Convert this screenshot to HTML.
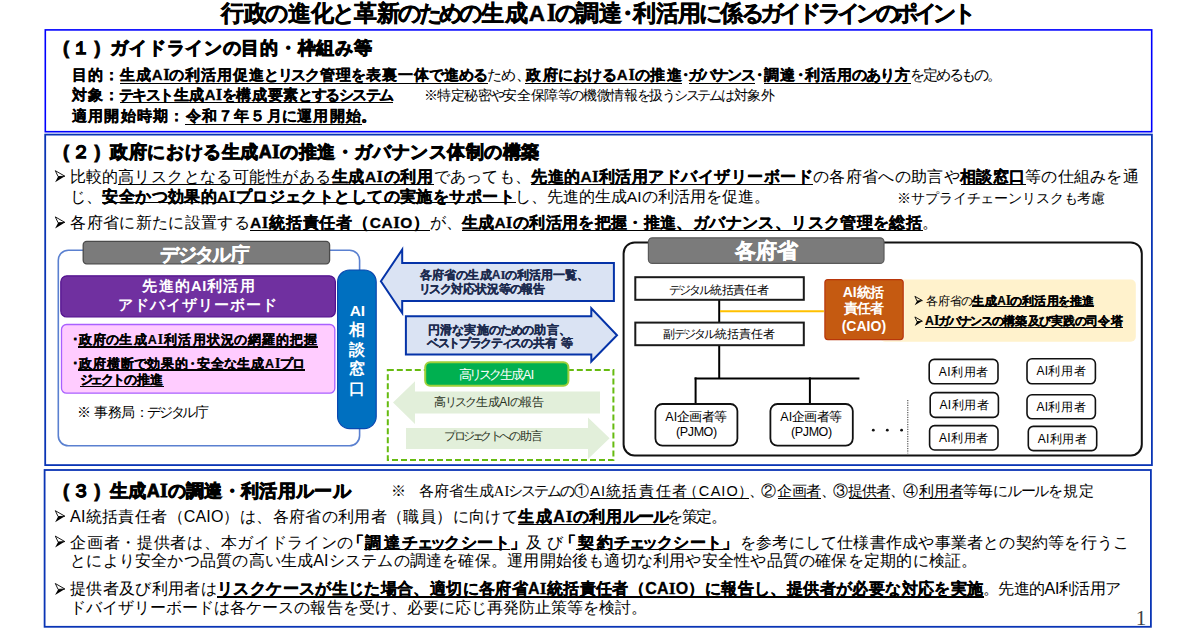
<!DOCTYPE html>
<html lang="ja"><head><meta charset="utf-8"><title>生成AIの調達・利活用に係るガイドラインのポイント</title>
<style>
html,body{margin:0;padding:0;background:#fff;}
body{width:1200px;height:630px;overflow:hidden;position:relative;font-family:"Liberation Sans",sans-serif;}
.bg{position:absolute;left:0;top:0;}
.t{position:absolute;white-space:nowrap;}
.f{white-space:nowrap;}
.f i{font-style:normal;}
.b{font-weight:bold;-webkit-text-stroke:0.018em currentColor;}
.k{font-weight:bold;}
.u{position:absolute;}
</style></head><body>
<svg class="bg" width="1200" height="630" viewBox="0 0 1200 630"><rect x="45.30" y="29.90" width="1106.40" height="101.80" rx="0.00" fill="none" stroke="#0000FF" stroke-width="1.60"></rect><rect x="45.20" y="134.60" width="1106.70" height="330.50" rx="0.00" fill="none" stroke="#0A35B5" stroke-width="1.80"></rect><rect x="44.60" y="470.00" width="1106.30" height="156.80" rx="0.00" fill="none" stroke="#0A35B5" stroke-width="1.80"></rect><path d="M55.30,170.70 L64.88,176.20 L58.13,176.60 Z" fill="none" stroke="#000" stroke-width="0.9" stroke-linejoin="miter"></path><path d="M64.88,176.20 L55.10,182.20 L58.13,176.60 Z" fill="#000"></path><path d="M55.30,216.90 L64.88,222.40 L58.13,222.80 Z" fill="none" stroke="#000" stroke-width="0.9" stroke-linejoin="miter"></path><path d="M64.88,222.40 L55.10,228.40 L58.13,222.80 Z" fill="#000"></path><rect x="58.30" y="250.20" width="301.30" height="195.60" rx="10.00" fill="#fff" stroke="#5A80D0" stroke-width="1.60"></rect><rect x="83.20" y="241.40" width="246.40" height="22.40" rx="3.50" fill="#7B7B7B" stroke="#4A4A4A" stroke-width="1.30"></rect><rect x="60.80" y="275.80" width="274.60" height="41.20" rx="6.00" fill="#7030A0" stroke="#52108E" stroke-width="1.20"></rect><rect x="61.50" y="324.50" width="273.30" height="68.70" rx="5.00" fill="#FFCCFF" stroke="#A960FF" stroke-width="1.30"></rect><rect x="337.60" y="270.00" width="38.60" height="158.60" rx="12.00" fill="#0070C0" stroke="#0A48B0" stroke-width="1.20"></rect><polygon points="380.90,281.30 402.20,249.60 402.20,262.90 613.90,262.90 613.90,300.90 402.20,300.90 402.20,313.00" fill="#DAE3F3" stroke="#0533A8" stroke-width="2.00" stroke-linejoin="miter"></polygon><polygon points="405.90,316.20 591.30,316.20 591.30,308.30 617.00,335.30 591.30,361.50 591.30,354.40 405.90,354.40" fill="#DAE3F3" stroke="#0533A8" stroke-width="2.00" stroke-linejoin="miter"></polygon><rect x="387.80" y="370.00" width="225.60" height="90.00" rx="0.00" fill="none" stroke="#66BB10" stroke-width="2.00" stroke-dasharray="6,3"></rect><polygon points="393.00,402.60 415.00,381.20 415.00,391.60 600.00,391.60 600.00,413.40 415.00,413.40 415.00,424.00" fill="#E2EFDA" stroke="none" stroke-width="1.00" stroke-linejoin="miter"></polygon><polygon points="406.00,428.00 588.00,428.00 588.00,417.40 609.60,438.20 588.00,459.00 588.00,449.00 406.00,449.00" fill="#E2EFDA" stroke="none" stroke-width="1.00" stroke-linejoin="miter"></polygon><rect x="425.20" y="362.20" width="143.20" height="23.60" rx="5.00" fill="#00B050" stroke="#9ED03A" stroke-width="2.00"></rect><rect x="623.60" y="242.40" width="518.20" height="213.10" rx="11.00" fill="none" stroke="#111" stroke-width="2.00"></rect><rect x="648.40" y="237.80" width="235.60" height="25.60" rx="4.00" fill="#7B7B7B" stroke="#5A5A5A" stroke-width="1.20"></rect><line x1="719.20" y1="300.00" x2="719.20" y2="322.00" stroke="#000" stroke-width="2.00"></line><line x1="719.20" y1="345.00" x2="719.20" y2="378.80" stroke="#000" stroke-width="2.00"></line><line x1="720.00" y1="311.20" x2="825.00" y2="311.20" stroke="#FFC000" stroke-width="2.00"></line><rect x="635.30" y="277.20" width="168.50" height="22.60" rx="0.00" fill="#fff" stroke="#1A1A1A" stroke-width="2.00"></rect><rect x="635.30" y="322.60" width="168.50" height="22.60" rx="0.00" fill="#fff" stroke="#1A1A1A" stroke-width="2.00"></rect><rect x="880.00" y="279.60" width="255.80" height="62.20" rx="5.00" fill="#FFF2CC" stroke="none" stroke-width="1.00"></rect><rect x="823.90" y="278.60" width="80.30" height="62.00" rx="4.00" fill="#fff" stroke="none" stroke-width="1.00"></rect><rect x="824.90" y="279.60" width="78.30" height="60.00" rx="3.00" fill="#C55A11" stroke="#B8360A" stroke-width="1.20"></rect><path d="M914.90,296.35 L922.38,300.60 L917.03,301.00 Z" fill="none" stroke="#000" stroke-width="0.9" stroke-linejoin="miter"></path><path d="M922.38,300.60 L914.70,305.35 L917.03,301.00 Z" fill="#000"></path><path d="M914.90,316.95 L922.38,321.20 L917.03,321.60 Z" fill="none" stroke="#000" stroke-width="0.9" stroke-linejoin="miter"></path><path d="M922.38,321.20 L914.70,325.95 L917.03,321.60 Z" fill="#000"></path><line x1="694.60" y1="378.40" x2="859.40" y2="378.40" stroke="#000" stroke-width="2.00"></line><line x1="695.60" y1="377.40" x2="695.60" y2="404.00" stroke="#000" stroke-width="2.00"></line><line x1="809.90" y1="377.40" x2="809.90" y2="404.00" stroke="#000" stroke-width="2.00"></line><rect x="655.40" y="404.00" width="82.00" height="41.60" rx="7.00" fill="#fff" stroke="#111" stroke-width="1.80"></rect><rect x="770.40" y="404.00" width="82.40" height="41.60" rx="7.00" fill="#fff" stroke="#111" stroke-width="1.80"></rect><circle cx="873.30" cy="430.2" r="1.4" fill="#111"></circle><circle cx="887.30" cy="430.2" r="1.4" fill="#111"></circle><circle cx="901.60" cy="430.2" r="1.4" fill="#111"></circle><line x1="907.80" y1="400.00" x2="907.80" y2="453.40" stroke="#333" stroke-width="1.00" stroke-dasharray="1.2,1.2"></line><rect x="929.20" y="359.40" width="68.80" height="24.40" rx="5.00" fill="#fff" stroke="#111" stroke-width="1.60"></rect><rect x="930.20" y="392.60" width="68.20" height="24.80" rx="5.00" fill="#fff" stroke="#111" stroke-width="1.60"></rect><rect x="929.60" y="425.60" width="68.40" height="24.40" rx="5.00" fill="#fff" stroke="#111" stroke-width="1.60"></rect><rect x="1027.00" y="358.80" width="68.40" height="25.00" rx="5.00" fill="#fff" stroke="#111" stroke-width="1.60"></rect><rect x="1027.00" y="394.80" width="68.40" height="24.00" rx="5.00" fill="#fff" stroke="#111" stroke-width="1.60"></rect><rect x="1028.30" y="426.40" width="68.40" height="24.20" rx="5.00" fill="#fff" stroke="#111" stroke-width="1.60"></rect><path d="M55.30,510.70 L64.88,516.20 L58.13,516.60 Z" fill="none" stroke="#000" stroke-width="0.9" stroke-linejoin="miter"></path><path d="M64.88,516.20 L55.10,522.20 L58.13,516.60 Z" fill="#000"></path><path d="M55.30,536.10 L64.88,541.60 L58.13,542.00 Z" fill="none" stroke="#000" stroke-width="0.9" stroke-linejoin="miter"></path><path d="M64.88,541.60 L55.10,547.60 L58.13,542.00 Z" fill="#000"></path><path d="M55.30,583.50 L64.88,589.00 L58.13,589.40 Z" fill="none" stroke="#000" stroke-width="0.9" stroke-linejoin="miter"></path><path d="M64.88,589.00 L55.10,595.00 L58.13,589.40 Z" fill="#000"></path></svg>
<div class="u" style="left:119.50px;top:82.65px;width:368.50px;height:1.30px;background:#000"></div><div class="u" style="left:525.40px;top:82.65px;width:157.10px;height:1.30px;background:#000"></div><div class="u" style="left:688.50px;top:82.65px;width:66.00px;height:1.30px;background:#000"></div><div class="u" style="left:763.50px;top:82.65px;width:147.00px;height:1.30px;background:#000"></div><div class="u" style="left:119.50px;top:102.15px;width:273.90px;height:1.30px;background:#000"></div><div class="u" style="left:185.00px;top:123.95px;width:176.60px;height:1.30px;background:#000"></div><div class="u" style="left:117.50px;top:183.75px;width:214.00px;height:1.30px;background:#000"></div><div class="u" style="left:331.50px;top:183.75px;width:102.25px;height:1.30px;background:#000"></div><div class="u" style="left:531.25px;top:183.75px;width:282.00px;height:1.30px;background:#000"></div><div class="u" style="left:960.50px;top:183.75px;width:65.30px;height:1.30px;background:#000"></div><div class="u" style="left:102.00px;top:201.95px;width:413.50px;height:1.30px;background:#000"></div><div class="u" style="left:250.00px;top:229.95px;width:180.00px;height:1.30px;background:#000"></div><div class="u" style="left:462.00px;top:229.95px;width:461.00px;height:1.30px;background:#000"></div><div class="u" style="left:78.00px;top:345.90px;width:240.00px;height:1.80px;background:#000"></div><div class="u" style="left:78.00px;top:369.10px;width:227.00px;height:1.80px;background:#000"></div><div class="u" style="left:80.40px;top:385.50px;width:83.30px;height:1.80px;background:#000"></div><div class="u" style="left:972.40px;top:305.80px;width:122.00px;height:1.20px;background:#000"></div><div class="u" style="left:925.00px;top:326.60px;width:198.00px;height:1.20px;background:#000"></div><div class="u" style="left:589.50px;top:497.85px;width:159.25px;height:1.10px;background:#000"></div><div class="u" style="left:777.50px;top:497.85px;width:43.75px;height:1.10px;background:#000"></div><div class="u" style="left:849.00px;top:497.85px;width:41.40px;height:1.10px;background:#000"></div><div class="u" style="left:918.80px;top:497.85px;width:44.70px;height:1.10px;background:#000"></div><div class="u" style="left:518.00px;top:523.55px;width:150.75px;height:1.30px;background:#000"></div><div class="u" style="left:363.75px;top:548.95px;width:146.25px;height:1.30px;background:#000"></div><div class="u" style="left:576.25px;top:548.95px;width:146.25px;height:1.30px;background:#000"></div><div class="u" style="left:217.00px;top:596.35px;width:767.40px;height:1.30px;background:#000"></div>
<div class="t" style="left:221.00px;top:1.64px;font-size:22.50px;line-height:22.50px;color:#000;"><span class="f b" style=""><i style="margin-left: 0.04px; margin-right: 0.04px;">行</i><i style="margin-left: 0.04px; margin-right: 0.04px;">政</i><i style="margin-left: -1.84px; margin-right: -1.84px;">の</i><i style="margin-left: 0.04px; margin-right: 0.04px;">進</i><i style="margin-left: 0.04px; margin-right: 0.04px;">化</i><i style="margin-left: -1.84px; margin-right: -1.84px;">と</i><i style="margin-left: 0.04px; margin-right: 0.04px;">革</i><i style="margin-left: 0.04px; margin-right: 0.04px;">新</i><i style="margin-left: -1.84px; margin-right: -1.84px;">の</i><i style="margin-left: -1.84px; margin-right: -1.84px;">た</i><i style="margin-left: -1.84px; margin-right: -1.84px;">め</i><i style="margin-left: -1.84px; margin-right: -1.84px;">の</i><i style="margin-left: 0.04px; margin-right: 0.04px;">生</i><i style="margin-left: 0.04px; margin-right: 0.04px;">成</i></span><span class="f b" style=""><i style="margin-left: 1.13px; margin-right: 1.13px;">A</i><i style="font-family: &quot;Liberation Serif&quot;, serif; font-size: 1.1em; margin-left: 0.67px; margin-right: 0.67px;">I</i></span><span class="f b" style=""><i style="margin-left: -2.17px; margin-right: -2.17px;">の</i><i style="margin-left: -0.33px; margin-right: -0.33px;">調</i><i style="margin-left: -0.33px; margin-right: -0.33px;">達</i><i style="margin-left: -5.36px; margin-right: -5.36px;">・</i><i style="margin-left: -0.33px; margin-right: -0.33px;">利</i><i style="margin-left: -0.33px; margin-right: -0.33px;">活</i><i style="margin-left: -0.33px; margin-right: -0.33px;">用</i><i style="margin-left: -2.17px; margin-right: -2.17px;">に</i><i style="margin-left: -0.33px; margin-right: -0.33px;">係</i><i style="margin-left: -2.17px; margin-right: -2.17px;">る</i><i style="margin-left: -2.4px; margin-right: -2.4px;">ガ</i><i style="margin-left: -2.4px; margin-right: -2.4px;">イ</i><i style="margin-left: -2.4px; margin-right: -2.4px;">ド</i><i style="margin-left: -2.4px; margin-right: -2.4px;">ラ</i><i style="margin-left: -2.4px; margin-right: -2.4px;">イ</i><i style="margin-left: -2.4px; margin-right: -2.4px;">ン</i><i style="margin-left: -2.17px; margin-right: -2.17px;">の</i><i style="margin-left: -2.4px; margin-right: -2.4px;">ポ</i><i style="margin-left: -2.4px; margin-right: -2.4px;">イ</i><i style="margin-left: -2.4px; margin-right: -2.4px;">ン</i><i style="margin-left: -2.4px; margin-right: -2.4px;">ト</i></span></div>
<div class="t" style="left:60.00px;top:39.31px;font-size:18.00px;line-height:18.00px;color:#000;"><span class="f b" style="-webkit-text-stroke: 0.045em currentcolor;"><i style="margin-left: 3px; margin-right: 3px;">(</i></span><span class="f b" style="-webkit-text-stroke: 0.045em currentcolor;"><i style="margin-left: -0.5px; margin-right: -0.5px;">１</i></span><span class="f b" style="-webkit-text-stroke: 0.045em currentcolor;"><i style="margin-left: 5.5px; margin-right: 5.5px;">)</i></span><span class="f" style=""><i style="margin-left: -0.51px; margin-right: -0.51px;"> </i></span><span class="f b" style="-webkit-text-stroke: 0.045em currentcolor;"><i style="margin-left: 0.36px; margin-right: 0.36px;">ガ</i><i style="margin-left: 0.36px; margin-right: 0.36px;">イ</i><i style="margin-left: 0.36px; margin-right: 0.36px;">ド</i><i style="margin-left: 0.36px; margin-right: 0.36px;">ラ</i><i style="margin-left: 0.36px; margin-right: 0.36px;">イ</i><i style="margin-left: 0.36px; margin-right: 0.36px;">ン</i><i style="margin-left: 0.36px; margin-right: 0.36px;">の</i><i style="margin-left: 0.36px; margin-right: 0.36px;">目</i><i style="margin-left: 0.36px; margin-right: 0.36px;">的</i><i style="margin-left: 0.36px; margin-right: 0.36px;">・</i><i style="margin-left: 0.36px; margin-right: 0.36px;">枠</i><i style="margin-left: 0.36px; margin-right: 0.36px;">組</i><i style="margin-left: 0.36px; margin-right: 0.36px;">み</i><i style="margin-left: 0.36px; margin-right: 0.36px;">等</i></span></div>
<div class="t" style="left:71.20px;top:67.22px;font-size:15.00px;line-height:15.00px;color:#000;"><span class="f b" style=""><i style="margin-left: 0.55px; margin-right: 0.55px;">目</i><i style="margin-left: 0.55px; margin-right: 0.55px;">的</i><i style="margin-left: 0.55px; margin-right: 0.55px;">：</i></span><span class="f b" style=""><i style="margin-left: 0.51px; margin-right: 0.51px;">生</i><i style="margin-left: 0.51px; margin-right: 0.51px;">成</i><i style="margin-left: 0.37px; margin-right: 0.37px;">A</i><i style="font-family: &quot;Liberation Serif&quot;, serif; font-size: 1.1em; margin-left: 0.22px; margin-right: 0.22px;">I</i><i style="margin-left: -0.45px; margin-right: -0.45px;">の</i><i style="margin-left: 0.51px; margin-right: 0.51px;">利</i><i style="margin-left: 0.51px; margin-right: 0.51px;">活</i><i style="margin-left: 0.51px; margin-right: 0.51px;">用</i><i style="margin-left: 0.51px; margin-right: 0.51px;">促</i><i style="margin-left: 0.51px; margin-right: 0.51px;">進</i><i style="margin-left: -0.45px; margin-right: -0.45px;">と</i><i style="margin-left: -0.61px; margin-right: -0.61px;">リ</i><i style="margin-left: -0.61px; margin-right: -0.61px;">ス</i><i style="margin-left: -0.61px; margin-right: -0.61px;">ク</i><i style="margin-left: 0.51px; margin-right: 0.51px;">管</i><i style="margin-left: 0.51px; margin-right: 0.51px;">理</i><i style="margin-left: -0.45px; margin-right: -0.45px;">を</i><i style="margin-left: 0.51px; margin-right: 0.51px;">表</i><i style="margin-left: 0.51px; margin-right: 0.51px;">裏</i><i style="margin-left: 0.51px; margin-right: 0.51px;">一</i><i style="margin-left: 0.51px; margin-right: 0.51px;">体</i><i style="margin-left: -0.45px; margin-right: -0.45px;">で</i><i style="margin-left: 0.51px; margin-right: 0.51px;">進</i><i style="margin-left: -0.45px; margin-right: -0.45px;">め</i><i style="margin-left: -0.45px; margin-right: -0.45px;">る</i></span><span class="f" style=""><i style="margin-left: -0.59px; margin-right: -0.59px;">た</i><i style="margin-left: -0.59px; margin-right: -0.59px;">め</i><i style="margin-right: -5.26px;">、</i></span><span class="f b" style=""><i style="margin-left: 0.72px; margin-right: 0.72px;">政</i><i style="margin-left: 0.72px; margin-right: 0.72px;">府</i><i style="margin-left: -0.26px; margin-right: -0.26px;">に</i><i style="margin-left: -0.26px; margin-right: -0.26px;">お</i><i style="margin-left: -0.26px; margin-right: -0.26px;">け</i><i style="margin-left: -0.26px; margin-right: -0.26px;">る</i><i style="margin-left: 0.52px; margin-right: 0.52px;">A</i><i style="font-family: &quot;Liberation Serif&quot;, serif; font-size: 1.1em; margin-left: 0.31px; margin-right: 0.31px;">I</i><i style="margin-left: -0.26px; margin-right: -0.26px;">の</i><i style="margin-left: 0.72px; margin-right: 0.72px;">推</i><i style="margin-left: 0.72px; margin-right: 0.72px;">進</i></span><span class="f b" style=""><i style="margin-left: -4.5px; margin-right: -4.5px;">・</i></span><span class="f b" style=""><i style="margin-left: -0.9px; margin-right: -0.9px;">ガ</i><i style="margin-left: -0.9px; margin-right: -0.9px;">バ</i><i style="margin-left: -0.9px; margin-right: -0.9px;">ナ</i><i style="margin-left: -0.9px; margin-right: -0.9px;">ン</i><i style="margin-left: -0.9px; margin-right: -0.9px;">ス</i></span><span class="f b" style=""><i style="margin-left: -3px; margin-right: -3px;">・</i></span><span class="f b" style=""><i style="margin-left: 0.5px; margin-right: 0.5px;">調</i><i style="margin-left: 0.5px; margin-right: 0.5px;">達</i><i style="margin-left: -3.1px; margin-right: -3.1px;">・</i><i style="margin-left: 0.5px; margin-right: 0.5px;">利</i><i style="margin-left: 0.5px; margin-right: 0.5px;">活</i><i style="margin-left: 0.5px; margin-right: 0.5px;">用</i><i style="margin-left: -0.46px; margin-right: -0.46px;">の</i><i style="margin-left: -0.46px; margin-right: -0.46px;">あ</i><i style="margin-left: -0.46px; margin-right: -0.46px;">り</i><i style="margin-left: 0.5px; margin-right: 0.5px;">方</i></span><span class="f" style=""><i style="margin-left: -1.25px; margin-right: -1.25px;">を</i><i style="margin-left: -0.4px; margin-right: -0.4px;">定</i><i style="margin-left: -1.25px; margin-right: -1.25px;">め</i><i style="margin-left: -1.25px; margin-right: -1.25px;">る</i><i style="margin-left: -1.25px; margin-right: -1.25px;">も</i><i style="margin-left: -1.25px; margin-right: -1.25px;">の</i><i style="margin-right: -6.19px;">。</i></span></div>
<div class="t" style="left:71.20px;top:87.42px;font-size:15.00px;line-height:15.00px;color:#000;"><span class="f b" style=""><i style="margin-left: 0.55px; margin-right: 0.55px;">対</i><i style="margin-left: 0.55px; margin-right: 0.55px;">象</i><i style="margin-left: 0.55px; margin-right: 0.55px;">：</i></span><span class="f b" style=""><i style="margin-left: -0.79px; margin-right: -0.79px;">テ</i><i style="margin-left: -0.79px; margin-right: -0.79px;">キ</i><i style="margin-left: -0.79px; margin-right: -0.79px;">ス</i><i style="margin-left: -0.79px; margin-right: -0.79px;">ト</i><i style="margin-left: 0.3px; margin-right: 0.3px;">生</i><i style="margin-left: 0.3px; margin-right: 0.3px;">成</i><i style="margin-left: 0.22px; margin-right: 0.22px;">A</i><i style="font-family: &quot;Liberation Serif&quot;, serif; font-size: 1.1em; margin-left: 0.13px; margin-right: 0.13px;">I</i><i style="margin-left: -0.63px; margin-right: -0.63px;">を</i><i style="margin-left: 0.3px; margin-right: 0.3px;">構</i><i style="margin-left: 0.3px; margin-right: 0.3px;">成</i><i style="margin-left: 0.3px; margin-right: 0.3px;">要</i><i style="margin-left: 0.3px; margin-right: 0.3px;">素</i><i style="margin-left: -0.63px; margin-right: -0.63px;">と</i><i style="margin-left: -0.63px; margin-right: -0.63px;">す</i><i style="margin-left: -0.63px; margin-right: -0.63px;">る</i><i style="margin-left: -0.79px; margin-right: -0.79px;">シ</i><i style="margin-left: -0.79px; margin-right: -0.79px;">ス</i><i style="margin-left: -0.79px; margin-right: -0.79px;">テ</i><i style="margin-left: -0.79px; margin-right: -0.79px;">ム</i></span></div>
<div class="t" style="left:424.60px;top:88.78px;font-size:13.50px;line-height:13.50px;color:#000;"><span class="f" style=""><i style="margin-left: -0.56px; margin-right: -0.56px;">※</i><i style="margin-left: -0.23px; margin-right: -0.23px;">特</i><i style="margin-left: -0.23px; margin-right: -0.23px;">定</i><i style="margin-left: -0.23px; margin-right: -0.23px;">秘</i><i style="margin-left: -0.23px; margin-right: -0.23px;">密</i><i style="margin-left: -1.04px; margin-right: -1.04px;">や</i><i style="margin-left: -0.23px; margin-right: -0.23px;">安</i><i style="margin-left: -0.23px; margin-right: -0.23px;">全</i><i style="margin-left: -0.23px; margin-right: -0.23px;">保</i><i style="margin-left: -0.23px; margin-right: -0.23px;">障</i><i style="margin-left: -0.23px; margin-right: -0.23px;">等</i><i style="margin-left: -1.04px; margin-right: -1.04px;">の</i><i style="margin-left: -0.23px; margin-right: -0.23px;">機</i><i style="margin-left: -0.23px; margin-right: -0.23px;">微</i><i style="margin-left: -0.23px; margin-right: -0.23px;">情</i><i style="margin-left: -0.23px; margin-right: -0.23px;">報</i><i style="margin-left: -1.04px; margin-right: -1.04px;">を</i><i style="margin-left: -0.23px; margin-right: -0.23px;">扱</i><i style="margin-left: -1.04px; margin-right: -1.04px;">う</i><i style="margin-left: -1.17px; margin-right: -1.17px;">シ</i><i style="margin-left: -1.17px; margin-right: -1.17px;">ス</i><i style="margin-left: -1.17px; margin-right: -1.17px;">テ</i><i style="margin-left: -1.17px; margin-right: -1.17px;">ム</i><i style="margin-left: -1.04px; margin-right: -1.04px;">は</i><i style="margin-left: -0.23px; margin-right: -0.23px;">対</i><i style="margin-left: -0.23px; margin-right: -0.23px;">象</i><i style="margin-left: -0.23px; margin-right: -0.23px;">外</i></span></div>
<div class="t" style="left:71.20px;top:108.42px;font-size:15.00px;line-height:15.00px;color:#000;"><span class="f b" style=""><i style="margin-left: 0.63px; margin-right: 0.63px;">適</i><i style="margin-left: 0.63px; margin-right: 0.63px;">用</i><i style="margin-left: 0.63px; margin-right: 0.63px;">開</i><i style="margin-left: 0.63px; margin-right: 0.63px;">始</i><i style="margin-left: 0.63px; margin-right: 0.63px;">時</i><i style="margin-left: 0.63px; margin-right: 0.63px;">期</i><i style="margin-left: 0.63px; margin-right: 0.63px;">：</i></span><span class="f b" style=""><i style="margin-left: 0.62px; margin-right: 0.62px;">令</i><i style="margin-left: 0.62px; margin-right: 0.62px;">和</i><i style="margin-left: 0.62px; margin-right: 0.62px;">７</i><i style="margin-left: 0.62px; margin-right: 0.62px;">年</i><i style="margin-left: 0.62px; margin-right: 0.62px;">５</i><i style="margin-left: 0.62px; margin-right: 0.62px;">月</i><i style="margin-left: -0.36px; margin-right: -0.36px;">に</i><i style="margin-left: 0.62px; margin-right: 0.62px;">運</i><i style="margin-left: 0.62px; margin-right: 0.62px;">用</i><i style="margin-left: 0.62px; margin-right: 0.62px;">開</i><i style="margin-left: 0.62px; margin-right: 0.62px;">始</i></span><span class="f b" style=""><i style="margin-right: -8.1px;">。</i></span></div>
<div class="t" style="left:60.00px;top:142.31px;font-size:18.00px;line-height:18.00px;color:#000;"><span class="f b" style="-webkit-text-stroke: 0.045em currentcolor;"><i style="margin-left: 3px; margin-right: 3px;">(</i></span><span class="f b" style="-webkit-text-stroke: 0.045em currentcolor;"><i style="margin-left: -0.5px; margin-right: -0.5px;">２</i></span><span class="f b" style="-webkit-text-stroke: 0.045em currentcolor;"><i style="margin-left: 5.5px; margin-right: 5.5px;">)</i></span><span class="f" style=""><i style="margin-left: -0.51px; margin-right: -0.51px;"> </i></span><span class="f b" style="-webkit-text-stroke: 0.045em currentcolor;"><i style="margin-left: 0.29px; margin-right: 0.29px;">政</i><i style="margin-left: 0.29px; margin-right: 0.29px;">府</i><i style="margin-left: 0.29px; margin-right: 0.29px;">に</i><i style="margin-left: 0.29px; margin-right: 0.29px;">お</i><i style="margin-left: 0.29px; margin-right: 0.29px;">け</i><i style="margin-left: 0.29px; margin-right: 0.29px;">る</i><i style="margin-left: 0.29px; margin-right: 0.29px;">生</i><i style="margin-left: 0.29px; margin-right: 0.29px;">成</i><i style="margin-left: 0.21px; margin-right: 0.21px;">A</i><i style="font-family: &quot;Liberation Serif&quot;, serif; font-size: 1.1em; margin-left: 0.12px; margin-right: 0.12px;">I</i><i style="margin-left: 0.29px; margin-right: 0.29px;">の</i><i style="margin-left: 0.29px; margin-right: 0.29px;">推</i><i style="margin-left: 0.29px; margin-right: 0.29px;">進</i><i style="margin-left: 0.29px; margin-right: 0.29px;">・</i><i style="margin-left: 0.29px; margin-right: 0.29px;">ガ</i><i style="margin-left: 0.29px; margin-right: 0.29px;">バ</i><i style="margin-left: 0.29px; margin-right: 0.29px;">ナ</i><i style="margin-left: 0.29px; margin-right: 0.29px;">ン</i><i style="margin-left: 0.29px; margin-right: 0.29px;">ス</i><i style="margin-left: 0.29px; margin-right: 0.29px;">体</i><i style="margin-left: 0.29px; margin-right: 0.29px;">制</i><i style="margin-left: 0.29px; margin-right: 0.29px;">の</i><i style="margin-left: 0.29px; margin-right: 0.29px;">構</i><i style="margin-left: 0.29px; margin-right: 0.29px;">築</i></span></div>
<div class="t" style="left:70.00px;top:169.17px;font-size:15.50px;line-height:15.50px;color:#000;"><span class="f" style=""><i style="margin-left: -0.08px; margin-right: -0.08px;">比</i><i style="margin-left: -0.08px; margin-right: -0.08px;">較</i><i style="margin-left: -0.08px; margin-right: -0.08px;">的</i></span><span class="f" style=""><i style="margin-left: 0.23px; margin-right: 0.23px;">高</i><i style="margin-left: 0.23px; margin-right: 0.23px;">リ</i><i style="margin-left: 0.23px; margin-right: 0.23px;">ス</i><i style="margin-left: 0.23px; margin-right: 0.23px;">ク</i><i style="margin-left: 0.23px; margin-right: 0.23px;">と</i><i style="margin-left: 0.23px; margin-right: 0.23px;">な</i><i style="margin-left: 0.23px; margin-right: 0.23px;">る</i><i style="margin-left: 0.23px; margin-right: 0.23px;">可</i><i style="margin-left: 0.23px; margin-right: 0.23px;">能</i><i style="margin-left: 0.23px; margin-right: 0.23px;">性</i><i style="margin-left: 0.23px; margin-right: 0.23px;">が</i><i style="margin-left: 0.23px; margin-right: 0.23px;">あ</i><i style="margin-left: 0.23px; margin-right: 0.23px;">る</i></span><span class="f b" style=""><i style="margin-left: 0.36px; margin-right: 0.36px;">生</i><i style="margin-left: 0.36px; margin-right: 0.36px;">成</i><i style="margin-left: 0.25px; margin-right: 0.25px;">A</i><i style="font-family: &quot;Liberation Serif&quot;, serif; font-size: 1.1em; margin-left: 0.15px; margin-right: 0.15px;">I</i><i style="margin-left: 0.36px; margin-right: 0.36px;">の</i><i style="margin-left: 0.36px; margin-right: 0.36px;">利</i><i style="margin-left: 0.36px; margin-right: 0.36px;">用</i></span><span class="f" style=""><i style="margin-left: 0.13px; margin-right: 0.13px;">で</i><i style="margin-left: 0.13px; margin-right: 0.13px;">あ</i><i style="margin-left: 0.13px; margin-right: 0.13px;">っ</i><i style="margin-left: 0.13px; margin-right: 0.13px;">て</i><i style="margin-left: 0.13px; margin-right: 0.13px;">も</i><i style="margin-right: 0.25px;">、</i></span><span class="f b" style=""><i style="margin-left: 0.24px; margin-right: 0.24px;">先</i><i style="margin-left: 0.24px; margin-right: 0.24px;">進</i><i style="margin-left: 0.24px; margin-right: 0.24px;">的</i><i style="margin-left: 0.17px; margin-right: 0.17px;">A</i><i style="font-family: &quot;Liberation Serif&quot;, serif; font-size: 1.1em; margin-left: 0.1px; margin-right: 0.1px;">I</i><i style="margin-left: 0.24px; margin-right: 0.24px;">利</i><i style="margin-left: 0.24px; margin-right: 0.24px;">活</i><i style="margin-left: 0.24px; margin-right: 0.24px;">用</i><i style="margin-left: 0.24px; margin-right: 0.24px;">ア</i><i style="margin-left: 0.24px; margin-right: 0.24px;">ド</i><i style="margin-left: 0.24px; margin-right: 0.24px;">バ</i><i style="margin-left: 0.24px; margin-right: 0.24px;">イ</i><i style="margin-left: 0.24px; margin-right: 0.24px;">ザ</i><i style="margin-left: 0.24px; margin-right: 0.24px;">リ</i><i style="margin-left: 0.24px; margin-right: 0.24px;">ー</i><i style="margin-left: 0.24px; margin-right: 0.24px;">ボ</i><i style="margin-left: 0.24px; margin-right: 0.24px;">ー</i><i style="margin-left: 0.24px; margin-right: 0.24px;">ド</i></span><span class="f" style=""><i style="margin-left: 0.18px; margin-right: 0.18px;">の</i><i style="margin-left: 0.18px; margin-right: 0.18px;">各</i><i style="margin-left: 0.18px; margin-right: 0.18px;">府</i><i style="margin-left: 0.18px; margin-right: 0.18px;">省</i><i style="margin-left: 0.18px; margin-right: 0.18px;">へ</i><i style="margin-left: 0.18px; margin-right: 0.18px;">の</i><i style="margin-left: 0.18px; margin-right: 0.18px;">助</i><i style="margin-left: 0.18px; margin-right: 0.18px;">言</i><i style="margin-left: 0.18px; margin-right: 0.18px;">や</i></span><span class="f b" style=""><i style="margin-left: 0.16px; margin-right: 0.16px;">相</i><i style="margin-left: 0.16px; margin-right: 0.16px;">談</i><i style="margin-left: 0.16px; margin-right: 0.16px;">窓</i><i style="margin-left: 0.16px; margin-right: 0.16px;">口</i></span><span class="f" style=""><i style="margin-left: 0.12px; margin-right: 0.12px;">等</i><i style="margin-left: 0.12px; margin-right: 0.12px;">の</i><i style="margin-left: 0.12px; margin-right: 0.12px;">仕</i><i style="margin-left: 0.12px; margin-right: 0.12px;">組</i><i style="margin-left: 0.12px; margin-right: 0.12px;">み</i><i style="margin-left: 0.12px; margin-right: 0.12px;">を</i><i style="margin-left: 0.12px; margin-right: 0.12px;">通</i></span></div>
<div class="t" style="left:70.00px;top:188.57px;font-size:15.50px;line-height:15.50px;color:#000;"><span class="f" style=""><i>じ</i><i>、</i></span><span class="f b" style=""><i style="margin-left: 0.23px; margin-right: 0.23px;">安</i><i style="margin-left: 0.23px; margin-right: 0.23px;">全</i><i style="margin-left: 0.23px; margin-right: 0.23px;">か</i><i style="margin-left: 0.23px; margin-right: 0.23px;">つ</i><i style="margin-left: 0.23px; margin-right: 0.23px;">効</i><i style="margin-left: 0.23px; margin-right: 0.23px;">果</i><i style="margin-left: 0.23px; margin-right: 0.23px;">的</i><i style="margin-left: 0.16px; margin-right: 0.16px;">A</i><i style="font-family: &quot;Liberation Serif&quot;, serif; font-size: 1.1em; margin-left: 0.1px; margin-right: 0.1px;">I</i><i style="margin-left: 0.23px; margin-right: 0.23px;">プ</i><i style="margin-left: 0.23px; margin-right: 0.23px;">ロ</i><i style="margin-left: 0.23px; margin-right: 0.23px;">ジ</i><i style="margin-left: 0.23px; margin-right: 0.23px;">ェ</i><i style="margin-left: 0.23px; margin-right: 0.23px;">ク</i><i style="margin-left: 0.23px; margin-right: 0.23px;">ト</i><i style="margin-left: 0.23px; margin-right: 0.23px;">と</i><i style="margin-left: 0.23px; margin-right: 0.23px;">し</i><i style="margin-left: 0.23px; margin-right: 0.23px;">て</i><i style="margin-left: 0.23px; margin-right: 0.23px;">の</i><i style="margin-left: 0.23px; margin-right: 0.23px;">実</i><i style="margin-left: 0.23px; margin-right: 0.23px;">施</i><i style="margin-left: 0.23px; margin-right: 0.23px;">を</i><i style="margin-left: 0.23px; margin-right: 0.23px;">サ</i><i style="margin-left: 0.23px; margin-right: 0.23px;">ポ</i><i style="margin-left: 0.23px; margin-right: 0.23px;">ー</i><i style="margin-left: 0.23px; margin-right: 0.23px;">ト</i></span><span class="f" style=""><i>し</i><i style="margin-right: -0.01px;">、</i><i>先</i><i>進</i><i>的</i><i>生</i><i>成</i><i>A</i><i>I</i><i>の</i><i>利</i><i>活</i><i>用</i><i>を</i><i>促</i><i>進</i><i style="margin-right: -0.01px;">。</i></span></div>
<div class="t" style="left:897.50px;top:191.78px;font-size:13.50px;line-height:13.50px;color:#000;"><span class="f" style=""><i style="margin-left: -0.08px; margin-right: -0.08px;">※</i><i style="margin-left: -0.08px; margin-right: -0.08px;">サ</i><i style="margin-left: -0.08px; margin-right: -0.08px;">プ</i><i style="margin-left: -0.08px; margin-right: -0.08px;">ラ</i><i style="margin-left: -0.08px; margin-right: -0.08px;">イ</i><i style="margin-left: -0.08px; margin-right: -0.08px;">チ</i><i style="margin-left: -0.08px; margin-right: -0.08px;">ェ</i><i style="margin-left: -0.08px; margin-right: -0.08px;">ー</i><i style="margin-left: -0.08px; margin-right: -0.08px;">ン</i><i style="margin-left: -0.08px; margin-right: -0.08px;">リ</i><i style="margin-left: -0.08px; margin-right: -0.08px;">ス</i><i style="margin-left: -0.08px; margin-right: -0.08px;">ク</i><i style="margin-left: -0.08px; margin-right: -0.08px;">も</i><i style="margin-left: -0.08px; margin-right: -0.08px;">考</i><i style="margin-left: -0.08px; margin-right: -0.08px;">慮</i></span></div>
<div class="t" style="left:70.00px;top:214.57px;font-size:15.50px;line-height:15.50px;color:#000;"><span class="f" style=""><i style="margin-left: 0.18px; margin-right: 0.18px;">各</i><i style="margin-left: 0.18px; margin-right: 0.18px;">府</i><i style="margin-left: 0.18px; margin-right: 0.18px;">省</i><i style="margin-left: 0.18px; margin-right: 0.18px;">に</i><i style="margin-left: 0.18px; margin-right: 0.18px;">新</i><i style="margin-left: 0.18px; margin-right: 0.18px;">た</i><i style="margin-left: 0.18px; margin-right: 0.18px;">に</i><i style="margin-left: 0.18px; margin-right: 0.18px;">設</i><i style="margin-left: 0.18px; margin-right: 0.18px;">置</i><i style="margin-left: 0.18px; margin-right: 0.18px;">す</i><i style="margin-left: 0.18px; margin-right: 0.18px;">る</i></span><span class="f b" style=""><i style="margin-left: 0.3px; margin-right: 0.3px;">A</i><i style="font-family: &quot;Liberation Serif&quot;, serif; font-size: 1.1em; margin-left: 0.18px; margin-right: 0.18px;">I</i><i style="margin-left: 0.42px; margin-right: 0.42px;">統</i><i style="margin-left: 0.42px; margin-right: 0.42px;">括</i><i style="margin-left: 0.42px; margin-right: 0.42px;">責</i><i style="margin-left: 0.42px; margin-right: 0.42px;">任</i><i style="margin-left: 0.42px; margin-right: 0.42px;">者</i><i style="margin-left: 0.85px;">（</i><i style="margin-left: 0.3px; margin-right: 0.3px;">C</i><i style="margin-left: 0.3px; margin-right: 0.3px;">A</i><i style="font-family: &quot;Liberation Serif&quot;, serif; font-size: 1.1em; margin-left: 0.18px; margin-right: 0.18px;">I</i><i style="margin-left: 0.32px; margin-right: 0.32px;">O</i><i style="margin-right: 0.85px;">）</i></span><span class="f" style=""><i>が</i><i>、</i></span><span class="f b" style=""><i style="margin-left: 0.2px; margin-right: 0.2px;">生</i><i style="margin-left: 0.2px; margin-right: 0.2px;">成</i><i style="margin-left: 0.14px; margin-right: 0.14px;">A</i><i style="font-family: &quot;Liberation Serif&quot;, serif; font-size: 1.1em; margin-left: 0.08px; margin-right: 0.08px;">I</i><i style="margin-left: 0.2px; margin-right: 0.2px;">の</i><i style="margin-left: 0.2px; margin-right: 0.2px;">利</i><i style="margin-left: 0.2px; margin-right: 0.2px;">活</i><i style="margin-left: 0.2px; margin-right: 0.2px;">用</i><i style="margin-left: 0.2px; margin-right: 0.2px;">を</i><i style="margin-left: 0.2px; margin-right: 0.2px;">把</i><i style="margin-left: 0.2px; margin-right: 0.2px;">握</i><i style="margin-left: 0.2px; margin-right: 0.2px;">・</i><i style="margin-left: 0.2px; margin-right: 0.2px;">推</i><i style="margin-left: 0.2px; margin-right: 0.2px;">進</i><i style="margin-right: 0.4px;">、</i><i style="margin-left: 0.2px; margin-right: 0.2px;">ガ</i><i style="margin-left: 0.2px; margin-right: 0.2px;">バ</i><i style="margin-left: 0.2px; margin-right: 0.2px;">ナ</i><i style="margin-left: 0.2px; margin-right: 0.2px;">ン</i><i style="margin-left: 0.2px; margin-right: 0.2px;">ス</i><i style="margin-right: 0.4px;">、</i><i style="margin-left: 0.2px; margin-right: 0.2px;">リ</i><i style="margin-left: 0.2px; margin-right: 0.2px;">ス</i><i style="margin-left: 0.2px; margin-right: 0.2px;">ク</i><i style="margin-left: 0.2px; margin-right: 0.2px;">管</i><i style="margin-left: 0.2px; margin-right: 0.2px;">理</i><i style="margin-left: 0.2px; margin-right: 0.2px;">を</i><i style="margin-left: 0.2px; margin-right: 0.2px;">総</i><i style="margin-left: 0.2px; margin-right: 0.2px;">括</i></span><span class="f" style=""><i style="margin-right: -9px;">。</i></span></div>
<div class="t" style="left:161.00px;top:245.00px;font-size:19.00px;line-height:19.00px;color:#fff;"><span class="f b" style=""><i style="margin-left: -0.81px; margin-right: -0.81px;">デ</i><i style="margin-left: -0.81px; margin-right: -0.81px;">ジ</i><i style="margin-left: -0.81px; margin-right: -0.81px;">タ</i><i style="margin-left: -0.81px; margin-right: -0.81px;">ル</i><i style="margin-left: 0.6px; margin-right: 0.6px;">庁</i></span></div>
<div class="t" style="left:141.50px;top:278.88px;font-size:14.50px;line-height:14.50px;color:#fff;"><span class="f k" style=""><i style="margin-left: 0.69px; margin-right: 0.69px;">先</i><i style="margin-left: 0.69px; margin-right: 0.69px;">進</i><i style="margin-left: 0.69px; margin-right: 0.69px;">的</i><i style="margin-left: 0.48px; margin-right: 0.48px;">A</i><i style="margin-left: 0.18px; margin-right: 0.18px;">I</i><i style="margin-left: 0.69px; margin-right: 0.69px;">利</i><i style="margin-left: 0.69px; margin-right: 0.69px;">活</i><i style="margin-left: 0.69px; margin-right: 0.69px;">用</i></span></div>
<div class="t" style="left:117.30px;top:298.08px;font-size:14.50px;line-height:14.50px;color:#fff;"><span class="f k" style=""><i style="margin-left: 0.52px; margin-right: 0.52px;">ア</i><i style="margin-left: 0.52px; margin-right: 0.52px;">ド</i><i style="margin-left: 0.52px; margin-right: 0.52px;">バ</i><i style="margin-left: 0.52px; margin-right: 0.52px;">イ</i><i style="margin-left: 0.52px; margin-right: 0.52px;">ザ</i><i style="margin-left: 0.52px; margin-right: 0.52px;">リ</i><i style="margin-left: 0.52px; margin-right: 0.52px;">ー</i><i style="margin-left: 0.52px; margin-right: 0.52px;">ボ</i><i style="margin-left: 0.52px; margin-right: 0.52px;">ー</i><i style="margin-left: 0.52px; margin-right: 0.52px;">ド</i></span></div>
<div class="t" style="left:73.00px;top:333.89px;font-size:12.50px;line-height:12.50px;color:#000;"><span class="f b" style=""><i style="margin-left: -1px; margin-right: -1px;">･</i></span><span class="f b" style=""><i style="margin-left: 0.6px; margin-right: 0.6px;">政</i><i style="margin-left: 0.6px; margin-right: 0.6px;">府</i><i style="margin-left: -0.26px; margin-right: -0.26px;">の</i><i style="margin-left: 0.6px; margin-right: 0.6px;">生</i><i style="margin-left: 0.6px; margin-right: 0.6px;">成</i><i style="margin-left: 0.61px; margin-right: 0.61px;">A</i><i style="font-family: &quot;Liberation Serif&quot;, serif; font-size: 1.1em; margin-left: 0.36px; margin-right: 0.36px;">I</i><i style="margin-left: 0.6px; margin-right: 0.6px;">利</i><i style="margin-left: 0.6px; margin-right: 0.6px;">活</i><i style="margin-left: 0.6px; margin-right: 0.6px;">用</i><i style="margin-left: 0.6px; margin-right: 0.6px;">状</i><i style="margin-left: 0.6px; margin-right: 0.6px;">況</i><i style="margin-left: -0.26px; margin-right: -0.26px;">の</i><i style="margin-left: 0.6px; margin-right: 0.6px;">網</i><i style="margin-left: 0.6px; margin-right: 0.6px;">羅</i><i style="margin-left: 0.6px; margin-right: 0.6px;">的</i><i style="margin-left: 0.6px; margin-right: 0.6px;">把</i><i style="margin-left: 0.6px; margin-right: 0.6px;">握</i></span></div>
<div class="t" style="left:73.00px;top:357.89px;font-size:12.50px;line-height:12.50px;color:#000;"><span class="f b" style=""><i style="margin-left: -1px; margin-right: -1px;">･</i></span><span class="f b" style=""><i style="margin-left: 0.51px; margin-right: 0.51px;">政</i><i style="margin-left: 0.51px; margin-right: 0.51px;">府</i><i style="margin-left: 0.51px; margin-right: 0.51px;">横</i><i style="margin-left: 0.51px; margin-right: 0.51px;">断</i><i style="margin-left: -0.33px; margin-right: -0.33px;">で</i><i style="margin-left: 0.51px; margin-right: 0.51px;">効</i><i style="margin-left: 0.51px; margin-right: 0.51px;">果</i><i style="margin-left: 0.51px; margin-right: 0.51px;">的</i><i style="margin-left: -2.64px; margin-right: -2.64px;">・</i><i style="margin-left: 0.51px; margin-right: 0.51px;">安</i><i style="margin-left: 0.51px; margin-right: 0.51px;">全</i><i style="margin-left: -0.33px; margin-right: -0.33px;">な</i><i style="margin-left: 0.51px; margin-right: 0.51px;">生</i><i style="margin-left: 0.51px; margin-right: 0.51px;">成</i><i style="margin-left: 0.55px; margin-right: 0.55px;">A</i><i style="font-family: &quot;Liberation Serif&quot;, serif; font-size: 1.1em; margin-left: 0.33px; margin-right: 0.33px;">I</i><i style="margin-left: -0.47px; margin-right: -0.47px;">プ</i><i style="margin-left: -0.47px; margin-right: -0.47px;">ロ</i></span></div>
<div class="t" style="left:80.40px;top:373.69px;font-size:12.50px;line-height:12.50px;color:#000;"><span class="f b" style=""><i style="margin-left: -0.67px; margin-right: -0.67px;">ジ</i><i style="margin-left: -1.89px; margin-right: -1.89px;">ェ</i><i style="margin-left: -0.67px; margin-right: -0.67px;">ク</i><i style="margin-left: -0.67px; margin-right: -0.67px;">ト</i><i style="margin-left: -0.53px; margin-right: -0.53px;">の</i><i style="margin-left: 0.28px; margin-right: 0.28px;">推</i><i style="margin-left: 0.28px; margin-right: 0.28px;">進</i></span></div>
<div class="t" style="left:77.80px;top:405.13px;font-size:14.00px;line-height:14.00px;color:#000;"><span class="f" style=""><i style="margin-left: -0.58px; margin-right: -0.58px;">※</i><i style="margin-left: -0.07px; margin-right: -0.07px;"> </i><i style="margin-left: -0.24px; margin-right: -0.24px;">事</i><i style="margin-left: -0.24px; margin-right: -0.24px;">務</i><i style="margin-left: -0.24px; margin-right: -0.24px;">局</i><i style="margin-left: -0.24px; margin-right: -0.24px;">：</i><i style="margin-left: -1.19px; margin-right: -1.19px;">デ</i><i style="margin-left: -1.19px; margin-right: -1.19px;">ジ</i><i style="margin-left: -1.19px; margin-right: -1.19px;">タ</i><i style="margin-left: -1.19px; margin-right: -1.19px;">ル</i><i style="margin-left: -0.24px; margin-right: -0.24px;">庁</i></span></div>
<div class="t" style="left:338.6px;width:37.6px;text-align:center;top:302.97px;font-size:15.50px;line-height:15.50px;color:#fff;font-weight:bold">AI</div>
<div class="t" style="left:338.6px;width:37.6px;text-align:center;top:321.77px;font-size:15.50px;line-height:15.50px;color:#fff;font-weight:bold">相</div>
<div class="t" style="left:338.6px;width:37.6px;text-align:center;top:341.77px;font-size:15.50px;line-height:15.50px;color:#fff;font-weight:bold">談</div>
<div class="t" style="left:338.6px;width:37.6px;text-align:center;top:361.37px;font-size:15.50px;line-height:15.50px;color:#fff;font-weight:bold">窓</div>
<div class="t" style="left:338.6px;width:37.6px;text-align:center;top:380.57px;font-size:15.50px;line-height:15.50px;color:#fff;font-weight:bold">口</div>
<div class="t" style="left:420.00px;top:268.74px;font-size:12.00px;line-height:12.00px;color:#1B2A4E;"><span class="f b" style=""><i style="margin-left: 0.1px; margin-right: 0.1px;">各</i><i style="margin-left: 0.1px; margin-right: 0.1px;">府</i><i style="margin-left: 0.1px; margin-right: 0.1px;">省</i><i style="margin-left: -0.63px; margin-right: -0.63px;">の</i><i style="margin-left: 0.1px; margin-right: 0.1px;">生</i><i style="margin-left: 0.1px; margin-right: 0.1px;">成</i><i style="margin-left: 0.07px; margin-right: 0.07px;">A</i><i style="font-family: &quot;Liberation Serif&quot;, serif; font-size: 1.1em; margin-left: 0.04px; margin-right: 0.04px;">I</i><i style="margin-left: -0.63px; margin-right: -0.63px;">の</i><i style="margin-left: 0.1px; margin-right: 0.1px;">利</i><i style="margin-left: 0.1px; margin-right: 0.1px;">活</i><i style="margin-left: 0.1px; margin-right: 0.1px;">用</i><i style="margin-left: 0.1px; margin-right: 0.1px;">一</i><i style="margin-left: 0.1px; margin-right: 0.1px;">覧</i><i style="margin-right: -4.44px;">、</i></span></div>
<div class="t" style="left:420.00px;top:283.24px;font-size:12.00px;line-height:12.00px;color:#1B2A4E;"><span class="f b" style=""><i style="margin-left: -0.86px; margin-right: -0.86px;">リ</i><i style="margin-left: -0.86px; margin-right: -0.86px;">ス</i><i style="margin-left: -0.86px; margin-right: -0.86px;">ク</i><i style="margin-left: -0.02px; margin-right: -0.02px;">対</i><i style="margin-left: -0.02px; margin-right: -0.02px;">応</i><i style="margin-left: -0.02px; margin-right: -0.02px;">状</i><i style="margin-left: -0.02px; margin-right: -0.02px;">況</i><i style="margin-left: -0.02px; margin-right: -0.02px;">等</i><i style="margin-left: -0.74px; margin-right: -0.74px;">の</i><i style="margin-left: -0.02px; margin-right: -0.02px;">報</i><i style="margin-left: -0.02px; margin-right: -0.02px;">告</i></span></div>
<div class="t" style="left:427.50px;top:323.74px;font-size:12.00px;line-height:12.00px;color:#1B2A4E;"><span class="f b" style=""><i style="margin-left: 0.32px; margin-right: 0.32px;">円</i><i style="margin-left: 0.32px; margin-right: 0.32px;">滑</i><i style="margin-left: -0.44px; margin-right: -0.44px;">な</i><i style="margin-left: 0.32px; margin-right: 0.32px;">実</i><i style="margin-left: 0.32px; margin-right: 0.32px;">施</i><i style="margin-left: -0.44px; margin-right: -0.44px;">の</i><i style="margin-left: -0.44px; margin-right: -0.44px;">た</i><i style="margin-left: -0.44px; margin-right: -0.44px;">め</i><i style="margin-left: -0.44px; margin-right: -0.44px;">の</i><i style="margin-left: 0.32px; margin-right: 0.32px;">助</i><i style="margin-left: 0.32px; margin-right: 0.32px;">言</i><i style="margin-right: -4.17px;">、</i></span></div>
<div class="t" style="left:427.50px;top:337.14px;font-size:12.00px;line-height:12.00px;color:#1B2A4E;"><span class="f b" style=""><i style="margin-left: -0.65px; margin-right: -0.65px;">ベ</i><i style="margin-left: -0.65px; margin-right: -0.65px;">ス</i><i style="margin-left: -0.65px; margin-right: -0.65px;">ト</i><i style="margin-left: -0.65px; margin-right: -0.65px;">プ</i><i style="margin-left: -0.65px; margin-right: -0.65px;">ラ</i><i style="margin-left: -0.65px; margin-right: -0.65px;">ク</i><i style="margin-left: -0.65px; margin-right: -0.65px;">テ</i><i style="margin-left: -1.77px; margin-right: -1.77px;">ィ</i><i style="margin-left: -0.65px; margin-right: -0.65px;">ス</i><i style="margin-left: -0.53px; margin-right: -0.53px;">の</i><i style="margin-left: 0.22px; margin-right: 0.22px;">共</i><i style="margin-left: 0.22px; margin-right: 0.22px;">有</i><i style="margin-left: 0.06px; margin-right: 0.06px;"> </i><i style="margin-left: 0.22px; margin-right: 0.22px;">等</i></span></div>
<div class="t" style="left:459.50px;top:369.19px;font-size:12.50px;line-height:12.50px;color:#fff;"><span class="f" style=""><i style="margin-left: -0.79px; margin-right: -0.79px;">高</i><i style="margin-left: -1.59px; margin-right: -1.59px;">リ</i><i style="margin-left: -1.59px; margin-right: -1.59px;">ス</i><i style="margin-left: -1.59px; margin-right: -1.59px;">ク</i><i style="margin-left: -0.79px; margin-right: -0.79px;">生</i><i style="margin-left: -0.79px; margin-right: -0.79px;">成</i><i style="margin-left: -0.36px; margin-right: -0.36px;">A</i><i style="margin-left: -0.15px; margin-right: -0.15px;">I</i></span></div>
<div class="t" style="left:434.50px;top:396.44px;font-size:12.00px;line-height:12.00px;color:#2A3324;"><span class="f" style=""><i style="margin-left: -0.2px; margin-right: -0.2px;">高</i><i style="margin-left: -1.01px; margin-right: -1.01px;">リ</i><i style="margin-left: -1.01px; margin-right: -1.01px;">ス</i><i style="margin-left: -1.01px; margin-right: -1.01px;">ク</i><i style="margin-left: -0.2px; margin-right: -0.2px;">生</i><i style="margin-left: -0.2px; margin-right: -0.2px;">成</i><i style="margin-left: -0.13px; margin-right: -0.13px;">A</i><i style="margin-left: -0.06px; margin-right: -0.06px;">I</i><i style="margin-left: -0.9px; margin-right: -0.9px;">の</i><i style="margin-left: -0.2px; margin-right: -0.2px;">報</i><i style="margin-left: -0.2px; margin-right: -0.2px;">告</i></span></div>
<div class="t" style="left:445.50px;top:430.44px;font-size:12.00px;line-height:12.00px;color:#2A3324;"><span class="f" style=""><i style="margin-left: -1.25px; margin-right: -1.25px;">プ</i><i style="margin-left: -1.25px; margin-right: -1.25px;">ロ</i><i style="margin-left: -1.25px; margin-right: -1.25px;">ジ</i><i style="margin-left: -2.25px; margin-right: -2.25px;">ェ</i><i style="margin-left: -1.25px; margin-right: -1.25px;">ク</i><i style="margin-left: -1.25px; margin-right: -1.25px;">ト</i><i style="margin-left: -1.14px; margin-right: -1.14px;">へ</i><i style="margin-left: -1.14px; margin-right: -1.14px;">の</i><i style="margin-left: -0.48px; margin-right: -0.48px;">助</i><i style="margin-left: -0.48px; margin-right: -0.48px;">言</i></span></div>
<div class="t" style="left:734.70px;top:240.09px;font-size:21.00px;line-height:21.00px;color:#fff;"><span class="f b" style=""><i>各</i><i>府</i><i>省</i></span></div>
<div class="t" style="left:669.50px;top:283.64px;font-size:12.00px;line-height:12.00px;color:#000;"><span class="f" style=""><i style="margin-left: -0.96px; margin-right: -0.96px;">デ</i><i style="margin-left: -0.96px; margin-right: -0.96px;">ジ</i><i style="margin-left: -0.96px; margin-right: -0.96px;">タ</i><i style="margin-left: -0.96px; margin-right: -0.96px;">ル</i><i style="margin-left: -0.14px; margin-right: -0.14px;">統</i><i style="margin-left: -0.14px; margin-right: -0.14px;">括</i><i style="margin-left: -0.14px; margin-right: -0.14px;">責</i><i style="margin-left: -0.14px; margin-right: -0.14px;">任</i><i style="margin-left: -0.14px; margin-right: -0.14px;">者</i></span></div>
<div class="t" style="left:663.00px;top:327.94px;font-size:12.00px;line-height:12.00px;color:#000;"><span class="f" style=""><i style="margin-left: -0.1px; margin-right: -0.1px;">副</i><i style="margin-left: -0.93px; margin-right: -0.93px;">デ</i><i style="margin-left: -0.93px; margin-right: -0.93px;">ジ</i><i style="margin-left: -0.93px; margin-right: -0.93px;">タ</i><i style="margin-left: -0.93px; margin-right: -0.93px;">ル</i><i style="margin-left: -0.1px; margin-right: -0.1px;">統</i><i style="margin-left: -0.1px; margin-right: -0.1px;">括</i><i style="margin-left: -0.1px; margin-right: -0.1px;">責</i><i style="margin-left: -0.1px; margin-right: -0.1px;">任</i><i style="margin-left: -0.1px; margin-right: -0.1px;">者</i></span></div>
<div class="t" style="left:842.80px;top:284.63px;font-size:14.00px;line-height:14.00px;color:#fff;"><span class="f k" style=""><i style="margin-left: -0.07px; margin-right: -0.07px;">A</i><i style="margin-left: -0.03px; margin-right: -0.03px;">I</i><i style="margin-left: -0.1px; margin-right: -0.1px;">統</i><i style="margin-left: -0.1px; margin-right: -0.1px;">括</i></span></div>
<div class="t" style="left:843.90px;top:301.23px;font-size:14.00px;line-height:14.00px;color:#fff;"><span class="f k" style=""><i style="margin-left: -0.33px; margin-right: -0.33px;">責</i><i style="margin-left: -0.33px; margin-right: -0.33px;">任</i><i style="margin-left: -0.33px; margin-right: -0.33px;">者</i></span></div>
<div class="t" style="left:841.70px;top:318.63px;font-size:14.00px;line-height:14.00px;color:#fff;"><span class="f k" style=""><i>(</i><i>C</i><i>A</i><i>I</i><i>O</i><i>)</i></span></div>
<div class="t" style="left:925.50px;top:294.79px;font-size:12.30px;line-height:12.30px;color:#000;"><span class="f" style=""><i style="margin-left: 0.04px; margin-right: 0.04px;">各</i><i style="margin-left: 0.04px; margin-right: 0.04px;">府</i><i style="margin-left: 0.04px; margin-right: 0.04px;">省</i><i style="margin-left: -0.68px; margin-right: -0.68px;">の</i></span><span class="f b" style=""><i style="margin-left: 0.15px; margin-right: 0.15px;">生</i><i style="margin-left: 0.15px; margin-right: 0.15px;">成</i><i>A</i><i style="font-family: &quot;Liberation Serif&quot;, serif; font-size: 1.1em;">I</i><i style="margin-left: -0.58px; margin-right: -0.58px;">の</i><i style="margin-left: 0.15px; margin-right: 0.15px;">利</i><i style="margin-left: 0.15px; margin-right: 0.15px;">活</i><i style="margin-left: 0.15px; margin-right: 0.15px;">用</i><i style="margin-left: -0.58px; margin-right: -0.58px;">を</i><i style="margin-left: 0.15px; margin-right: 0.15px;">推</i><i style="margin-left: 0.15px; margin-right: 0.15px;">進</i></span></div>
<div class="t" style="left:925.00px;top:315.09px;font-size:12.30px;line-height:12.30px;color:#000;"><span class="f b" style=""><i>A</i><i style="font-family: &quot;Liberation Serif&quot;, serif; font-size: 1.1em;">I</i><i style="margin-left: -0.71px; margin-right: -0.71px;">ガ</i><i style="margin-left: -0.71px; margin-right: -0.71px;">バ</i><i style="margin-left: -0.71px; margin-right: -0.71px;">ナ</i><i style="margin-left: -0.71px; margin-right: -0.71px;">ン</i><i style="margin-left: -0.71px; margin-right: -0.71px;">ス</i><i style="margin-left: -0.59px; margin-right: -0.59px;">の</i><i style="margin-left: 0.15px; margin-right: 0.15px;">構</i><i style="margin-left: 0.15px; margin-right: 0.15px;">築</i><i style="margin-left: 0.15px; margin-right: 0.15px;">及</i><i style="margin-left: -0.59px; margin-right: -0.59px;">び</i><i style="margin-left: 0.15px; margin-right: 0.15px;">実</i><i style="margin-left: 0.15px; margin-right: 0.15px;">践</i><i style="margin-left: -0.59px; margin-right: -0.59px;">の</i><i style="margin-left: 0.15px; margin-right: 0.15px;">司</i><i style="margin-left: 0.15px; margin-right: 0.15px;">令</i><i style="margin-left: 0.15px; margin-right: 0.15px;">塔</i></span></div>
<div class="t" style="left:665.30px;top:411.39px;font-size:12.50px;line-height:12.50px;color:#000;"><span class="f" style=""><i style="margin-left: -0.01px; margin-right: -0.01px;">A</i><i>I</i><i style="margin-left: -0.26px; margin-right: -0.26px;">企</i><i style="margin-left: -0.26px; margin-right: -0.26px;">画</i><i style="margin-left: -0.26px; margin-right: -0.26px;">者</i><i style="margin-left: -0.26px; margin-right: -0.26px;">等</i></span></div>
<div class="t" style="left:676.00px;top:426.49px;font-size:12.50px;line-height:12.50px;color:#000;"><span class="f" style=""><i style="margin-left: -0.1px; margin-right: -0.1px;">(</i><i style="margin-left: -0.2px; margin-right: -0.2px;">P</i><i style="margin-left: -0.15px; margin-right: -0.15px;">J</i><i style="margin-left: -0.25px; margin-right: -0.25px;">M</i><i style="margin-left: -0.24px; margin-right: -0.24px;">O</i><i style="margin-left: -0.1px; margin-right: -0.1px;">)</i></span></div>
<div class="t" style="left:780.30px;top:411.39px;font-size:12.50px;line-height:12.50px;color:#000;"><span class="f" style=""><i style="margin-left: -0.01px; margin-right: -0.01px;">A</i><i>I</i><i style="margin-left: -0.26px; margin-right: -0.26px;">企</i><i style="margin-left: -0.26px; margin-right: -0.26px;">画</i><i style="margin-left: -0.26px; margin-right: -0.26px;">者</i><i style="margin-left: -0.26px; margin-right: -0.26px;">等</i></span></div>
<div class="t" style="left:791.00px;top:426.49px;font-size:12.50px;line-height:12.50px;color:#000;"><span class="f" style=""><i style="margin-left: -0.1px; margin-right: -0.1px;">(</i><i style="margin-left: -0.2px; margin-right: -0.2px;">P</i><i style="margin-left: -0.15px; margin-right: -0.15px;">J</i><i style="margin-left: -0.25px; margin-right: -0.25px;">M</i><i style="margin-left: -0.24px; margin-right: -0.24px;">O</i><i style="margin-left: -0.1px; margin-right: -0.1px;">)</i></span></div>
<div class="t" style="left:938.60px;top:365.74px;font-size:12.00px;line-height:12.00px;color:#000;"><span class="f" style=""><i style="margin-left: 0.22px; margin-right: 0.22px;">A</i><i style="margin-left: 0.09px; margin-right: 0.09px;">I</i><i style="margin-left: 0.33px; margin-right: 0.33px;">利</i><i style="margin-left: 0.33px; margin-right: 0.33px;">用</i><i style="margin-left: 0.33px; margin-right: 0.33px;">者</i></span></div>
<div class="t" style="left:939.30px;top:399.14px;font-size:12.00px;line-height:12.00px;color:#000;"><span class="f" style=""><i style="margin-left: 0.22px; margin-right: 0.22px;">A</i><i style="margin-left: 0.09px; margin-right: 0.09px;">I</i><i style="margin-left: 0.33px; margin-right: 0.33px;">利</i><i style="margin-left: 0.33px; margin-right: 0.33px;">用</i><i style="margin-left: 0.33px; margin-right: 0.33px;">者</i></span></div>
<div class="t" style="left:938.80px;top:431.94px;font-size:12.00px;line-height:12.00px;color:#000;"><span class="f" style=""><i style="margin-left: 0.22px; margin-right: 0.22px;">A</i><i style="margin-left: 0.09px; margin-right: 0.09px;">I</i><i style="margin-left: 0.33px; margin-right: 0.33px;">利</i><i style="margin-left: 0.33px; margin-right: 0.33px;">用</i><i style="margin-left: 0.33px; margin-right: 0.33px;">者</i></span></div>
<div class="t" style="left:1036.20px;top:365.44px;font-size:12.00px;line-height:12.00px;color:#000;"><span class="f" style=""><i style="margin-left: 0.22px; margin-right: 0.22px;">A</i><i style="margin-left: 0.09px; margin-right: 0.09px;">I</i><i style="margin-left: 0.33px; margin-right: 0.33px;">利</i><i style="margin-left: 0.33px; margin-right: 0.33px;">用</i><i style="margin-left: 0.33px; margin-right: 0.33px;">者</i></span></div>
<div class="t" style="left:1036.20px;top:400.94px;font-size:12.00px;line-height:12.00px;color:#000;"><span class="f" style=""><i style="margin-left: 0.22px; margin-right: 0.22px;">A</i><i style="margin-left: 0.09px; margin-right: 0.09px;">I</i><i style="margin-left: 0.33px; margin-right: 0.33px;">利</i><i style="margin-left: 0.33px; margin-right: 0.33px;">用</i><i style="margin-left: 0.33px; margin-right: 0.33px;">者</i></span></div>
<div class="t" style="left:1037.50px;top:432.64px;font-size:12.00px;line-height:12.00px;color:#000;"><span class="f" style=""><i style="margin-left: 0.22px; margin-right: 0.22px;">A</i><i style="margin-left: 0.09px; margin-right: 0.09px;">I</i><i style="margin-left: 0.33px; margin-right: 0.33px;">利</i><i style="margin-left: 0.33px; margin-right: 0.33px;">用</i><i style="margin-left: 0.33px; margin-right: 0.33px;">者</i></span></div>
<div class="t" style="left:60.00px;top:480.91px;font-size:18.00px;line-height:18.00px;color:#000;"><span class="f b" style="-webkit-text-stroke: 0.045em currentcolor;"><i style="margin-left: 3px; margin-right: 3px;">(</i></span><span class="f b" style="-webkit-text-stroke: 0.045em currentcolor;"><i style="margin-left: -0.5px; margin-right: -0.5px;">３</i></span><span class="f b" style="-webkit-text-stroke: 0.045em currentcolor;"><i style="margin-left: 5.5px; margin-right: 5.5px;">)</i></span><span class="f" style=""><i style="margin-left: -0.51px; margin-right: -0.51px;"> </i></span><span class="f b" style="-webkit-text-stroke: 0.045em currentcolor;"><i style="margin-left: 0.16px; margin-right: 0.16px;">生</i><i style="margin-left: 0.16px; margin-right: 0.16px;">成</i><i style="margin-left: 0.12px; margin-right: 0.12px;">A</i><i style="font-family: &quot;Liberation Serif&quot;, serif; font-size: 1.1em; margin-left: 0.07px; margin-right: 0.07px;">I</i><i style="margin-left: 0.16px; margin-right: 0.16px;">の</i><i style="margin-left: 0.16px; margin-right: 0.16px;">調</i><i style="margin-left: 0.16px; margin-right: 0.16px;">達</i><i style="margin-left: 0.16px; margin-right: 0.16px;">・</i><i style="margin-left: 0.16px; margin-right: 0.16px;">利</i><i style="margin-left: 0.16px; margin-right: 0.16px;">活</i><i style="margin-left: 0.16px; margin-right: 0.16px;">用</i><i style="margin-left: 0.16px; margin-right: 0.16px;">ル</i><i style="margin-left: 0.16px; margin-right: 0.16px;">ー</i><i style="margin-left: 0.16px; margin-right: 0.16px;">ル</i></span></div>
<div class="t" style="left:393.00px;top:484.38px;font-size:14.50px;line-height:14.50px;color:#000;"><span class="f" style=""><i style="margin-left: -2px; margin-right: -2px;">※</i></span><span class="f" style="font-family: &quot;Liberation Serif&quot;, serif;"><i style="margin-left: -0.04px; margin-right: -0.04px;">　</i><i style="margin-left: -0.04px; margin-right: -0.04px;">各</i><i style="margin-left: -0.04px; margin-right: -0.04px;">府</i><i style="margin-left: -0.04px; margin-right: -0.04px;">省</i><i style="margin-left: -0.04px; margin-right: -0.04px;">生</i><i style="margin-left: -0.04px; margin-right: -0.04px;">成</i><i style="margin-left: 0.15px; margin-right: 0.15px;">A</i><i style="margin-left: 0.07px; margin-right: 0.07px;">I</i><i style="margin-left: -1.08px; margin-right: -1.08px;">シ</i><i style="margin-left: -1.08px; margin-right: -1.08px;">ス</i><i style="margin-left: -1.08px; margin-right: -1.08px;">テ</i><i style="margin-left: -1.08px; margin-right: -1.08px;">ム</i><i style="margin-left: -0.94px; margin-right: -0.94px;">の</i></span><span class="f" style=""><i style="margin-left: 0.38px; margin-right: 0.38px;">①</i></span><span class="f" style=""><i style="margin-left: 0.68px; margin-right: 0.68px;">A</i><i style="margin-left: 0.28px; margin-right: 0.28px;">I</i><i style="margin-left: 0.77px; margin-right: 0.77px;">統</i><i style="margin-left: 0.77px; margin-right: 0.77px;">括</i><i style="margin-left: 0.77px; margin-right: 0.77px;">責</i><i style="margin-left: 0.77px; margin-right: 0.77px;">任</i><i style="margin-left: 0.77px; margin-right: 0.77px;">者</i><i style="margin-left: -4.75px;">（</i><i style="margin-left: 0.74px; margin-right: 0.74px;">C</i><i style="margin-left: 0.68px; margin-right: 0.68px;">A</i><i style="margin-left: 0.28px; margin-right: 0.28px;">I</i><i style="margin-left: 0.79px; margin-right: 0.79px;">O</i><i style="margin-right: -4.75px;">）</i></span><span class="f" style=""><i style="margin-right: -4px;">、</i><i style="margin-left: 1.37px; margin-right: 1.37px;">②</i></span><span class="f" style=""><i style="margin-left: -0.21px; margin-right: -0.21px;">企</i><i style="margin-left: -0.21px; margin-right: -0.21px;">画</i><i style="margin-left: -0.21px; margin-right: -0.21px;">者</i></span><span class="f" style=""><i style="margin-right: -4.38px;">、</i><i style="margin-left: 1.06px; margin-right: 1.06px;">③</i></span><span class="f" style=""><i style="margin-left: -0.6px; margin-right: -0.6px;">提</i><i style="margin-left: -0.6px; margin-right: -0.6px;">供</i><i style="margin-left: -0.6px; margin-right: -0.6px;">者</i></span><span class="f" style=""><i style="margin-right: -4.13px;">、</i><i style="margin-left: 1.27px; margin-right: 1.27px;">④</i></span><span class="f" style=""><i style="margin-left: -0.05px; margin-right: -0.05px;">利</i><i style="margin-left: -0.05px; margin-right: -0.05px;">用</i><i style="margin-left: -0.05px; margin-right: -0.05px;">者</i></span><span class="f" style=""><i style="margin-left: -0.25px; margin-right: -0.25px;">等</i></span><span class="f" style="font-family: &quot;Liberation Serif&quot;, serif;"><i style="margin-left: 0.44px; margin-right: 0.44px;">毎</i><i style="margin-left: -0.52px; margin-right: -0.52px;">に</i><i style="margin-left: -0.68px; margin-right: -0.68px;">ル</i><i style="margin-left: -0.68px; margin-right: -0.68px;">ー</i><i style="margin-left: -0.68px; margin-right: -0.68px;">ル</i><i style="margin-left: -0.52px; margin-right: -0.52px;">を</i><i style="margin-left: 0.44px; margin-right: 0.44px;">規</i><i style="margin-left: 0.44px; margin-right: 0.44px;">定</i></span></div>
<div class="t" style="left:70.00px;top:507.52px;font-size:16.00px;line-height:16.00px;color:#000;"><span class="f" style=""><i style="margin-left: 0.12px; margin-right: 0.12px;">A</i><i style="margin-left: 0.05px; margin-right: 0.05px;">I</i><i style="margin-left: 0.18px; margin-right: 0.18px;">統</i><i style="margin-left: 0.18px; margin-right: 0.18px;">括</i><i style="margin-left: 0.18px; margin-right: 0.18px;">責</i><i style="margin-left: 0.18px; margin-right: 0.18px;">任</i><i style="margin-left: 0.18px; margin-right: 0.18px;">者</i><i style="margin-left: 0.36px;">（</i><i style="margin-left: 0.13px; margin-right: 0.13px;">C</i><i style="margin-left: 0.12px; margin-right: 0.12px;">A</i><i style="margin-left: 0.05px; margin-right: 0.05px;">I</i><i style="margin-left: 0.14px; margin-right: 0.14px;">O</i><i style="margin-right: 0.36px;">）</i><i style="margin-left: 0.18px; margin-right: 0.18px;">は</i><i style="margin-right: 0.36px;">、</i><i style="margin-left: 0.18px; margin-right: 0.18px;">各</i><i style="margin-left: 0.18px; margin-right: 0.18px;">府</i><i style="margin-left: 0.18px; margin-right: 0.18px;">省</i><i style="margin-left: 0.18px; margin-right: 0.18px;">の</i><i style="margin-left: 0.18px; margin-right: 0.18px;">利</i><i style="margin-left: 0.18px; margin-right: 0.18px;">用</i><i style="margin-left: 0.18px; margin-right: 0.18px;">者</i><i style="margin-left: 0.36px;">（</i><i style="margin-left: 0.18px; margin-right: 0.18px;">職</i><i style="margin-left: 0.18px; margin-right: 0.18px;">員</i><i style="margin-right: 0.36px;">）</i><i style="margin-left: 0.18px; margin-right: 0.18px;">に</i><i style="margin-left: 0.18px; margin-right: 0.18px;">向</i><i style="margin-left: 0.18px; margin-right: 0.18px;">け</i><i style="margin-left: 0.18px; margin-right: 0.18px;">て</i></span><span class="f b" style=""><i style="margin-left: 0.75px; margin-right: 0.75px;">生</i><i style="margin-left: 0.75px; margin-right: 0.75px;">成</i><i style="margin-left: 0.54px; margin-right: 0.54px;">A</i><i style="font-family: &quot;Liberation Serif&quot;, serif; font-size: 1.1em; margin-left: 0.32px; margin-right: 0.32px;">I</i><i style="margin-left: -0.3px; margin-right: -0.3px;">の</i><i style="margin-left: 0.75px; margin-right: 0.75px;">利</i><i style="margin-left: 0.75px; margin-right: 0.75px;">用</i><i style="margin-left: -0.47px; margin-right: -0.47px;">ル</i><i style="margin-left: -0.47px; margin-right: -0.47px;">ー</i><i style="margin-left: -0.47px; margin-right: -0.47px;">ル</i></span><span class="f" style=""><i style="margin-left: -0.97px; margin-right: -0.97px;">を</i><i style="margin-left: -0.97px; margin-right: -0.97px;">策</i><i style="margin-left: -0.97px; margin-right: -0.97px;">定</i><i style="margin-right: -1.94px;">。</i></span></div>
<div class="t" style="left:70.00px;top:535.12px;font-size:16.00px;line-height:16.00px;color:#000;"><span class="f" style=""><i style="margin-left: 0.35px; margin-right: 0.35px;">企</i><i style="margin-left: 0.35px; margin-right: 0.35px;">画</i><i style="margin-left: 0.35px; margin-right: 0.35px;">者</i><i style="margin-left: 0.35px; margin-right: 0.35px;">・</i><i style="margin-left: 0.35px; margin-right: 0.35px;">提</i><i style="margin-left: 0.35px; margin-right: 0.35px;">供</i><i style="margin-left: 0.35px; margin-right: 0.35px;">者</i><i style="margin-left: 0.35px; margin-right: 0.35px;">は</i><i style="margin-right: 0.69px;">、</i><i style="margin-left: 0.35px; margin-right: 0.35px;">本</i><i style="margin-left: 0.35px; margin-right: 0.35px;">ガ</i><i style="margin-left: 0.35px; margin-right: 0.35px;">イ</i><i style="margin-left: 0.35px; margin-right: 0.35px;">ド</i><i style="margin-left: 0.35px; margin-right: 0.35px;">ラ</i><i style="margin-left: 0.35px; margin-right: 0.35px;">イ</i><i style="margin-left: 0.35px; margin-right: 0.35px;">ン</i><i style="margin-left: 0.35px; margin-right: 0.35px;">の</i></span><span class="f b" style=""><i style="margin-left: -6px;">「</i></span><span class="f b" style=""><i style="margin-left: 1.55px; margin-right: 1.55px;">調</i><i style="margin-left: 1.55px; margin-right: 1.55px;">達</i><i style="margin-left: 0.21px; margin-right: 0.21px;">チ</i><i style="margin-left: -1.51px; margin-right: -1.51px;">ェ</i><i style="margin-left: -1.51px; margin-right: -1.51px;">ッ</i><i style="margin-left: 0.21px; margin-right: 0.21px;">ク</i><i style="margin-left: 0.21px; margin-right: 0.21px;">シ</i><i style="margin-left: 0.21px; margin-right: 0.21px;">ー</i><i style="margin-left: 0.21px; margin-right: 0.21px;">ト</i></span><span class="f b" style=""><i style="margin-right: -2.25px;">」</i></span><span class="f" style=""><i style="margin-left: 2.56px; margin-right: 2.56px;">及</i><i style="margin-left: 2.56px; margin-right: 2.56px;">び</i></span><span class="f b" style=""><i style="margin-left: -5.75px;">「</i></span><span class="f b" style=""><i style="margin-left: 1.55px; margin-right: 1.55px;">契</i><i style="margin-left: 1.55px; margin-right: 1.55px;">約</i><i style="margin-left: 0.21px; margin-right: 0.21px;">チ</i><i style="margin-left: -1.51px; margin-right: -1.51px;">ェ</i><i style="margin-left: -1.51px; margin-right: -1.51px;">ッ</i><i style="margin-left: 0.21px; margin-right: 0.21px;">ク</i><i style="margin-left: 0.21px; margin-right: 0.21px;">シ</i><i style="margin-left: 0.21px; margin-right: 0.21px;">ー</i><i style="margin-left: 0.21px; margin-right: 0.21px;">ト</i></span><span class="f b" style=""><i style="margin-right: 1.5px;">」</i></span><span class="f" style=""><i style="margin-left: 0.11px; margin-right: 0.11px;">を</i><i style="margin-left: 0.11px; margin-right: 0.11px;">参</i><i style="margin-left: 0.11px; margin-right: 0.11px;">考</i><i style="margin-left: 0.11px; margin-right: 0.11px;">に</i><i style="margin-left: 0.11px; margin-right: 0.11px;">し</i><i style="margin-left: 0.11px; margin-right: 0.11px;">て</i><i style="margin-left: 0.11px; margin-right: 0.11px;">仕</i><i style="margin-left: 0.11px; margin-right: 0.11px;">様</i><i style="margin-left: 0.11px; margin-right: 0.11px;">書</i><i style="margin-left: 0.11px; margin-right: 0.11px;">作</i><i style="margin-left: 0.11px; margin-right: 0.11px;">成</i><i style="margin-left: 0.11px; margin-right: 0.11px;">や</i><i style="margin-left: 0.11px; margin-right: 0.11px;">事</i><i style="margin-left: 0.11px; margin-right: 0.11px;">業</i><i style="margin-left: 0.11px; margin-right: 0.11px;">者</i><i style="margin-left: 0.11px; margin-right: 0.11px;">と</i><i style="margin-left: 0.11px; margin-right: 0.11px;">の</i><i style="margin-left: 0.11px; margin-right: 0.11px;">契</i><i style="margin-left: 0.11px; margin-right: 0.11px;">約</i><i style="margin-left: 0.11px; margin-right: 0.11px;">等</i><i style="margin-left: 0.11px; margin-right: 0.11px;">を</i><i style="margin-left: 0.11px; margin-right: 0.11px;">行</i><i style="margin-left: 0.11px; margin-right: 0.11px;">う</i><i style="margin-left: 0.11px; margin-right: 0.11px;">こ</i></span></div>
<div class="t" style="left:70.00px;top:552.72px;font-size:16.00px;line-height:16.00px;color:#000;"><span class="f" style=""><i style="margin-left: 0.11px; margin-right: 0.11px;">と</i><i style="margin-left: 0.11px; margin-right: 0.11px;">に</i><i style="margin-left: 0.11px; margin-right: 0.11px;">よ</i><i style="margin-left: 0.11px; margin-right: 0.11px;">り</i><i style="margin-left: 0.11px; margin-right: 0.11px;">安</i><i style="margin-left: 0.11px; margin-right: 0.11px;">全</i><i style="margin-left: 0.11px; margin-right: 0.11px;">か</i><i style="margin-left: 0.11px; margin-right: 0.11px;">つ</i><i style="margin-left: 0.11px; margin-right: 0.11px;">品</i><i style="margin-left: 0.11px; margin-right: 0.11px;">質</i><i style="margin-left: 0.11px; margin-right: 0.11px;">の</i><i style="margin-left: 0.11px; margin-right: 0.11px;">高</i><i style="margin-left: 0.11px; margin-right: 0.11px;">い</i><i style="margin-left: 0.11px; margin-right: 0.11px;">生</i><i style="margin-left: 0.11px; margin-right: 0.11px;">成</i><i style="margin-left: 0.07px; margin-right: 0.07px;">A</i><i style="margin-left: 0.03px; margin-right: 0.03px;">I</i><i style="margin-left: 0.11px; margin-right: 0.11px;">シ</i><i style="margin-left: 0.11px; margin-right: 0.11px;">ス</i><i style="margin-left: 0.11px; margin-right: 0.11px;">テ</i><i style="margin-left: 0.11px; margin-right: 0.11px;">ム</i><i style="margin-left: 0.11px; margin-right: 0.11px;">の</i><i style="margin-left: 0.11px; margin-right: 0.11px;">調</i><i style="margin-left: 0.11px; margin-right: 0.11px;">達</i><i style="margin-left: 0.11px; margin-right: 0.11px;">を</i><i style="margin-left: 0.11px; margin-right: 0.11px;">確</i><i style="margin-left: 0.11px; margin-right: 0.11px;">保</i><i style="margin-right: 0.21px;">。</i><i style="margin-left: 0.11px; margin-right: 0.11px;">運</i><i style="margin-left: 0.11px; margin-right: 0.11px;">用</i><i style="margin-left: 0.11px; margin-right: 0.11px;">開</i><i style="margin-left: 0.11px; margin-right: 0.11px;">始</i><i style="margin-left: 0.11px; margin-right: 0.11px;">後</i><i style="margin-left: 0.11px; margin-right: 0.11px;">も</i><i style="margin-left: 0.11px; margin-right: 0.11px;">適</i><i style="margin-left: 0.11px; margin-right: 0.11px;">切</i><i style="margin-left: 0.11px; margin-right: 0.11px;">な</i><i style="margin-left: 0.11px; margin-right: 0.11px;">利</i><i style="margin-left: 0.11px; margin-right: 0.11px;">用</i><i style="margin-left: 0.11px; margin-right: 0.11px;">や</i><i style="margin-left: 0.11px; margin-right: 0.11px;">安</i><i style="margin-left: 0.11px; margin-right: 0.11px;">全</i><i style="margin-left: 0.11px; margin-right: 0.11px;">性</i><i style="margin-left: 0.11px; margin-right: 0.11px;">や</i><i style="margin-left: 0.11px; margin-right: 0.11px;">品</i><i style="margin-left: 0.11px; margin-right: 0.11px;">質</i><i style="margin-left: 0.11px; margin-right: 0.11px;">の</i><i style="margin-left: 0.11px; margin-right: 0.11px;">確</i><i style="margin-left: 0.11px; margin-right: 0.11px;">保</i><i style="margin-left: 0.11px; margin-right: 0.11px;">を</i><i style="margin-left: 0.11px; margin-right: 0.11px;">定</i><i style="margin-left: 0.11px; margin-right: 0.11px;">期</i><i style="margin-left: 0.11px; margin-right: 0.11px;">的</i><i style="margin-left: 0.11px; margin-right: 0.11px;">に</i><i style="margin-left: 0.11px; margin-right: 0.11px;">検</i><i style="margin-left: 0.11px; margin-right: 0.11px;">証</i><i style="margin-right: 0.21px;">。</i></span></div>
<div class="t" style="left:70.00px;top:580.22px;font-size:16.00px;line-height:16.00px;color:#000;"><span class="f" style=""><i style="margin-left: 0.17px; margin-right: 0.17px;">提</i><i style="margin-left: 0.17px; margin-right: 0.17px;">供</i><i style="margin-left: 0.17px; margin-right: 0.17px;">者</i><i style="margin-left: 0.17px; margin-right: 0.17px;">及</i><i style="margin-left: 0.17px; margin-right: 0.17px;">び</i><i style="margin-left: 0.17px; margin-right: 0.17px;">利</i><i style="margin-left: 0.17px; margin-right: 0.17px;">用</i><i style="margin-left: 0.17px; margin-right: 0.17px;">者</i><i style="margin-left: 0.17px; margin-right: 0.17px;">は</i></span><span class="f b" style=""><i style="margin-left: 0.2px; margin-right: 0.2px;">リ</i><i style="margin-left: 0.2px; margin-right: 0.2px;">ス</i><i style="margin-left: 0.2px; margin-right: 0.2px;">ク</i><i style="margin-left: 0.2px; margin-right: 0.2px;">ケ</i><i style="margin-left: 0.2px; margin-right: 0.2px;">ー</i><i style="margin-left: 0.2px; margin-right: 0.2px;">ス</i><i style="margin-left: 0.2px; margin-right: 0.2px;">が</i><i style="margin-left: 0.2px; margin-right: 0.2px;">生</i><i style="margin-left: 0.2px; margin-right: 0.2px;">じ</i><i style="margin-left: 0.2px; margin-right: 0.2px;">た</i><i style="margin-left: 0.2px; margin-right: 0.2px;">場</i><i style="margin-left: 0.2px; margin-right: 0.2px;">合</i><i style="margin-right: 0.4px;">、</i><i style="margin-left: 0.2px; margin-right: 0.2px;">適</i><i style="margin-left: 0.2px; margin-right: 0.2px;">切</i><i style="margin-left: 0.2px; margin-right: 0.2px;">に</i><i style="margin-left: 0.2px; margin-right: 0.2px;">各</i><i style="margin-left: 0.2px; margin-right: 0.2px;">府</i><i style="margin-left: 0.2px; margin-right: 0.2px;">省</i><i style="margin-left: 0.14px; margin-right: 0.14px;">A</i><i style="font-family: &quot;Liberation Serif&quot;, serif; font-size: 1.1em; margin-left: 0.08px; margin-right: 0.08px;">I</i><i style="margin-left: 0.2px; margin-right: 0.2px;">統</i><i style="margin-left: 0.2px; margin-right: 0.2px;">括</i><i style="margin-left: 0.2px; margin-right: 0.2px;">責</i><i style="margin-left: 0.2px; margin-right: 0.2px;">任</i><i style="margin-left: 0.2px; margin-right: 0.2px;">者</i><i style="margin-left: 0.4px;">（</i><i style="margin-left: 0.14px; margin-right: 0.14px;">C</i><i style="margin-left: 0.14px; margin-right: 0.14px;">A</i><i style="font-family: &quot;Liberation Serif&quot;, serif; font-size: 1.1em; margin-left: 0.08px; margin-right: 0.08px;">I</i><i style="margin-left: 0.15px; margin-right: 0.15px;">O</i><i style="margin-right: 0.4px;">）</i><i style="margin-left: 0.2px; margin-right: 0.2px;">に</i><i style="margin-left: 0.2px; margin-right: 0.2px;">報</i><i style="margin-left: 0.2px; margin-right: 0.2px;">告</i><i style="margin-left: 0.2px; margin-right: 0.2px;">し</i><i style="margin-right: 0.4px;">、</i><i style="margin-left: 0.2px; margin-right: 0.2px;">提</i><i style="margin-left: 0.2px; margin-right: 0.2px;">供</i><i style="margin-left: 0.2px; margin-right: 0.2px;">者</i><i style="margin-left: 0.2px; margin-right: 0.2px;">が</i><i style="margin-left: 0.2px; margin-right: 0.2px;">必</i><i style="margin-left: 0.2px; margin-right: 0.2px;">要</i><i style="margin-left: 0.2px; margin-right: 0.2px;">な</i><i style="margin-left: 0.2px; margin-right: 0.2px;">対</i><i style="margin-left: 0.2px; margin-right: 0.2px;">応</i><i style="margin-left: 0.2px; margin-right: 0.2px;">を</i><i style="margin-left: 0.2px; margin-right: 0.2px;">実</i><i style="margin-left: 0.2px; margin-right: 0.2px;">施</i></span><span class="f" style=""><i style="margin-right: -0.62px;">。</i><i style="margin-left: -0.31px; margin-right: -0.31px;">先</i><i style="margin-left: -0.31px; margin-right: -0.31px;">進</i><i style="margin-left: -0.31px; margin-right: -0.31px;">的</i><i style="margin-left: -0.21px; margin-right: -0.21px;">A</i><i style="margin-left: -0.09px; margin-right: -0.09px;">I</i><i style="margin-left: -0.31px; margin-right: -0.31px;">利</i><i style="margin-left: -0.31px; margin-right: -0.31px;">活</i><i style="margin-left: -0.31px; margin-right: -0.31px;">用</i><i style="margin-left: -0.31px; margin-right: -0.31px;">ア</i></span></div>
<div class="t" style="left:70.00px;top:599.72px;font-size:16.00px;line-height:16.00px;color:#000;"><span class="f" style=""><i style="margin-left: 0.03px; margin-right: 0.03px;">ド</i><i style="margin-left: 0.03px; margin-right: 0.03px;">バ</i><i style="margin-left: 0.03px; margin-right: 0.03px;">イ</i><i style="margin-left: 0.03px; margin-right: 0.03px;">ザ</i><i style="margin-left: 0.03px; margin-right: 0.03px;">リ</i><i style="margin-left: 0.03px; margin-right: 0.03px;">ー</i><i style="margin-left: 0.03px; margin-right: 0.03px;">ボ</i><i style="margin-left: 0.03px; margin-right: 0.03px;">ー</i><i style="margin-left: 0.03px; margin-right: 0.03px;">ド</i><i style="margin-left: 0.03px; margin-right: 0.03px;">は</i><i style="margin-left: 0.03px; margin-right: 0.03px;">各</i><i style="margin-left: 0.03px; margin-right: 0.03px;">ケ</i><i style="margin-left: 0.03px; margin-right: 0.03px;">ー</i><i style="margin-left: 0.03px; margin-right: 0.03px;">ス</i><i style="margin-left: 0.03px; margin-right: 0.03px;">の</i><i style="margin-left: 0.03px; margin-right: 0.03px;">報</i><i style="margin-left: 0.03px; margin-right: 0.03px;">告</i><i style="margin-left: 0.03px; margin-right: 0.03px;">を</i><i style="margin-left: 0.03px; margin-right: 0.03px;">受</i><i style="margin-left: 0.03px; margin-right: 0.03px;">け</i><i style="margin-right: 0.06px;">、</i><i style="margin-left: 0.03px; margin-right: 0.03px;">必</i><i style="margin-left: 0.03px; margin-right: 0.03px;">要</i><i style="margin-left: 0.03px; margin-right: 0.03px;">に</i><i style="margin-left: 0.03px; margin-right: 0.03px;">応</i><i style="margin-left: 0.03px; margin-right: 0.03px;">じ</i><i style="margin-left: 0.03px; margin-right: 0.03px;">再</i><i style="margin-left: 0.03px; margin-right: 0.03px;">発</i><i style="margin-left: 0.03px; margin-right: 0.03px;">防</i><i style="margin-left: 0.03px; margin-right: 0.03px;">止</i><i style="margin-left: 0.03px; margin-right: 0.03px;">策</i><i style="margin-left: 0.03px; margin-right: 0.03px;">等</i><i style="margin-left: 0.03px; margin-right: 0.03px;">を</i><i style="margin-left: 0.03px; margin-right: 0.03px;">検</i><i style="margin-left: 0.03px; margin-right: 0.03px;">討</i><i style="margin-right: 0.06px;">。</i></span></div>
<div class="t" style="left:1135.8px;top:607.6px;font-size:21px;line-height:21px;color:#404040;font-family:'Liberation Serif',serif">1</div>

</body></html>
